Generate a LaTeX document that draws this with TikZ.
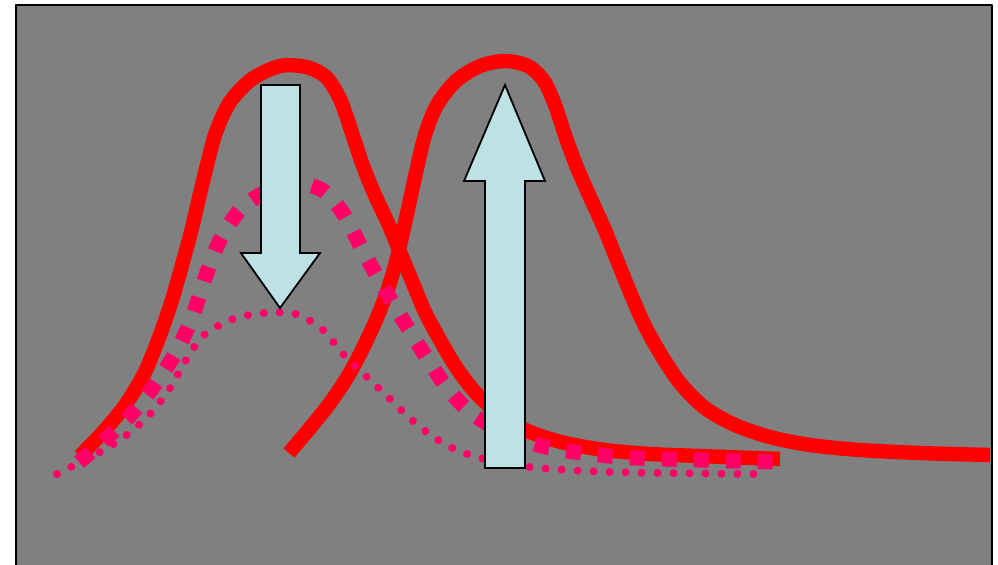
\documentclass[tikz,border=0pt]{standalone}
\usepackage{xcolor,tikz}
\usetikzlibrary{calc}
\definecolor{pkRed}{HTML}{FF0000}
\definecolor{pkPink}{HTML}{FF0066}
\definecolor{pkIce}{HTML}{BDE1E4}
\definecolor{pkGray}{HTML}{808080}
\tikzset{
 scene/.style={line join=round},
 frame/.style={draw=black,fill=pkGray,line width=1pt},
 peak/.style={draw=pkRed,line width=7.2pt,line cap=butt},
 peakDash/.style={draw=pkPink,line width=7.5pt,line cap=butt,dash pattern=on 7.5pt off 8.5pt},
 peakDot/.style={draw=pkPink,line width=4pt,line cap=round,dash pattern=on 0pt off 8pt},
 shiftArrow/.style={draw=black,fill=pkIce,line width=.9pt,line join=miter}
}

\begin{document}
\begin{tikzpicture}[scene,x=.5pt,y=-.5pt]
 \useasboundingbox (0,0) rectangle (998,564);
 \clip (0,0) rectangle (998,564);
 \path[frame] (16,5) rectangle (992,600);
 % solid curves
 \draw[peak] plot[smooth,tension=.5] coordinates {(80,456) (104,431) (126,404) (145,372) (160,335) (172,300) (182,265) (191,232) (199,198) (207,165) (216,132) (230,102) (252,79) (280,66) (306,67) (326,77) (340,99) (351,130) (362,163) (374,193) (388,223) (400,252) (412,281) (425,312) (440,340) (456,367) (475,392) (500,415) (530,432) (565,443) (605,450) (650,454) (700,456) (780,459)};
 \draw[peak] plot[smooth,tension=.5] coordinates {(289,453) (310,428) (330,403) (348,376) (363,348) (376,320) (387,292) (396,262) (403,232) (410,200) (417,168) (425,135) (437,105) (456,81) (480,66) (505,61) (528,66) (544,81) (555,105) (565,135) (576,165) (590,197) (604,228) (617,260) (630,292) (644,324) (660,353) (680,383) (705,408) (735,425) (770,437) (810,445) (860,450) (920,453) (990,455)};
 % broken curves
 \draw[peakDash] plot[smooth,tension=.5] coordinates {(79,462) (110,435) (135,410) (157,382) (176,352) (192,318) (205,278) (220,240) (240,210) (265,192) (293,183) (322,190) (343,213) (360,245) (378,278) (400,315) (423,352) (445,385) (470,412) (505,433) (550,448) (620,457) (700,460) (776,462)};
 \draw[peakDot] plot[smooth,tension=.5] coordinates {(57,474) (100,452) (128,434) (152,412) (170,388) (186,360) (204,335) (233,319) (264,313) (296,314) (323,330) (343,354) (367,377) (390,399) (413,421) (438,440) (467,454) (520,466) (610,472) (758,474)};
 % arrows
 \draw[shiftArrow] (261,85) -- (300,85) -- (300,253) -- (320,253) -- (280,308) -- (241,253) -- (261,253) -- cycle;
 \draw[shiftArrow] (485,468) -- (525,468) -- (525,181) -- (545,181) -- (505,85) -- (464,181) -- (485,181) -- cycle;
\end{tikzpicture}
\end{document}
